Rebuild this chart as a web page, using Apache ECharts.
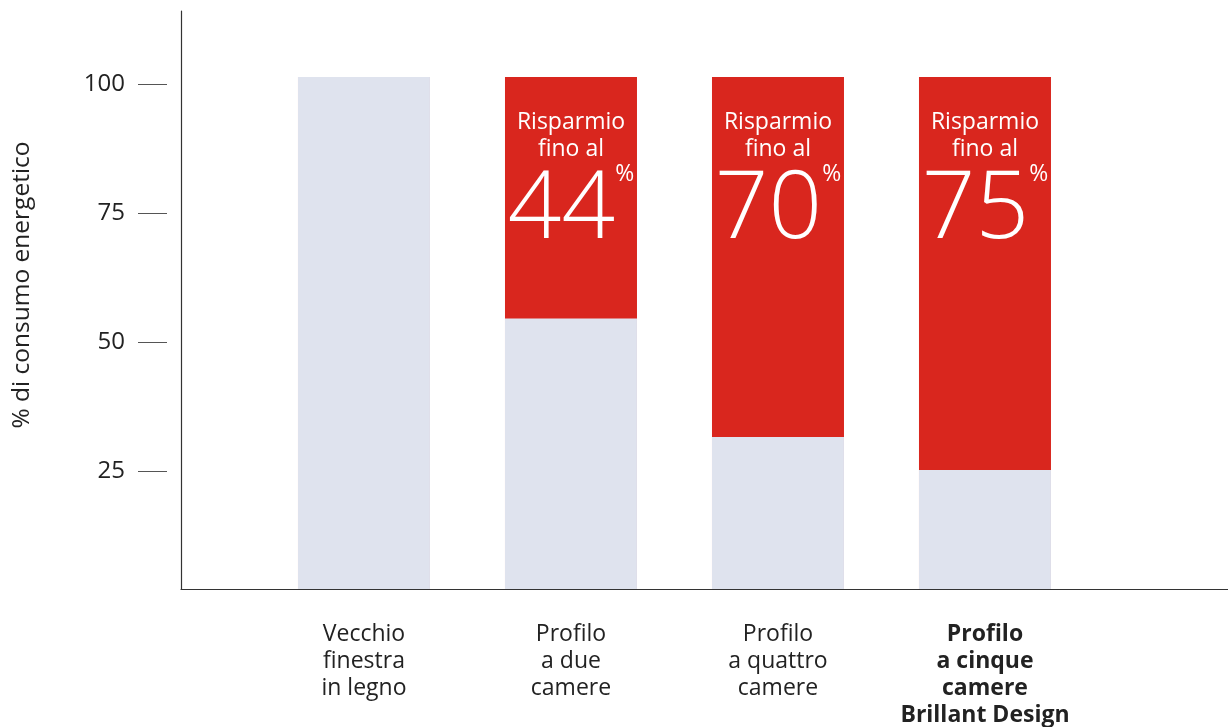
<!DOCTYPE html>
<html>
<head>
<meta charset="utf-8">
<script src="https://cdn.jsdelivr.net/npm/echarts@6/dist/echarts.min.js"></script>
<style>
  html, body { margin: 0; padding: 0; background: #fff; }
  #chart { width: 1228px; height: 727px; }
</style>
</head>
<body>
<div id="chart"></div>
<script>
// categories (one bar each)
const categories = [
  ['Vecchio', 'finestra', 'in legno'],
  ['Profilo', 'a due', 'camere'],
  ['Profilo', 'a quattro', 'camere'],
  ['Profilo', 'a cinque', 'camere', 'Brillant Design']
];
// light part: remaining consumption (% of old window)
const remaining = [101.4, 54.6, 31.6, 25.2];
// red part: saved share on top of it
const saved = [0, 46.8, 69.8, 76.2];
// numbers printed inside the red blocks
const savingLabels = ['', '44', '70', '75'];
const yTicks = [25, 50, 75, 100];
const highlighted = 3;

const FONT = '"Open Sans", sans-serif';
const GRAY = '#dfe3ee';
const RED = '#d9261e';

const chart = echarts.init(document.getElementById('chart'), null, { renderer: 'canvas' });

// red block sits on top of the light one: draw it full height behind
const totals = remaining.map((v, i) => v + saved[i]);

const option = {
  animation: false,
  textStyle: { fontFamily: FONT },
  grid: { left: 181, right: 0, top: 11, bottom: 138 },
  xAxis: {
    type: 'value',
    min: -0.884,
    max: 4.174,
    axisLine: { show: true, onZero: false, lineStyle: { color: '#333', width: 1.2 } },
    axisTick: { show: false },
    splitLine: { show: false },
    axisLabel: {
      customValues: [0, 1, 2, 3],
      margin: 32,
      formatter: (v) => {
        const idx = Math.round(v);
        const style = idx === highlighted ? 'b' : 'r';
        return categories[idx].map(line => `{${style}|${line}}`).join('\n');
      },
      rich: {
        r: { fontFamily: FONT, fontSize: 23, lineHeight: 27, color: '#222' },
        b: { fontFamily: FONT, fontSize: 23, lineHeight: 27, color: '#222', fontWeight: 'bold' }
      }
    }
  },
  yAxis: [
    {
      type: 'value',
      min: 2.13,
      max: 114.2,
      axisLine: { show: true, onZero: false, lineStyle: { color: '#333', width: 1.2 } },
      axisTick: { show: false },
      axisLabel: { show: false },
      splitLine: { show: false }
    },
    {
      type: 'value',
      position: 'left',
      offset: 14,
      min: 2.13,
      max: 114.2,
      name: '% di consumo energetico',
      nameLocation: 'middle',
      nameGap: 132,
      nameTextStyle: { fontFamily: FONT, fontSize: 24.5, color: '#222', padding: [0, 0, 0, 30] },
      axisLine: { show: false, onZero: false },
      axisTick: {
        show: true,
        customValues: yTicks,
        length: 29,
        lineStyle: { color: '#555', width: 1 }
      },
      axisLabel: {
        customValues: yTicks,
        margin: 42,
        fontFamily: FONT,
        fontSize: 24,
        color: '#222'
      },
      splitLine: { show: false }
    }
  ],
  series: [
    {
      name: 'Risparmio',
      type: 'bar',
      barWidth: 132,
      barGap: '-100%',
      itemStyle: { color: RED },
      data: totals.map((v, i) => ({
        value: [i, v],
        label: { show: savingLabels[i] !== '' }
      })),
      label: {
        show: true,
        position: 'insideTop',
        distance: 32,
        align: 'center',
        formatter: (p) => `{t|Risparmio}\n{t|fino al}\n{n|${savingLabels[p.dataIndex]}}{p|%}`,
        rich: {
          t: { fontFamily: FONT, fontSize: 23, lineHeight: 27, color: '#fff' },
          n: { fontFamily: FONT, fontSize: 94, lineHeight: 96, color: '#fff', fontWeight: 300 },
          p: { fontFamily: FONT, fontSize: 23, lineHeight: 42, color: '#fff', verticalAlign: 'top' }
        }
      }
    },
    {
      name: 'Consumo',
      type: 'bar',
      barWidth: 132,
      barGap: '-100%',
      itemStyle: { color: GRAY },
      data: remaining.map((v, i) => [i, v])
    }
  ]
};

chart.setOption(option);
</script>
</body>
</html>
